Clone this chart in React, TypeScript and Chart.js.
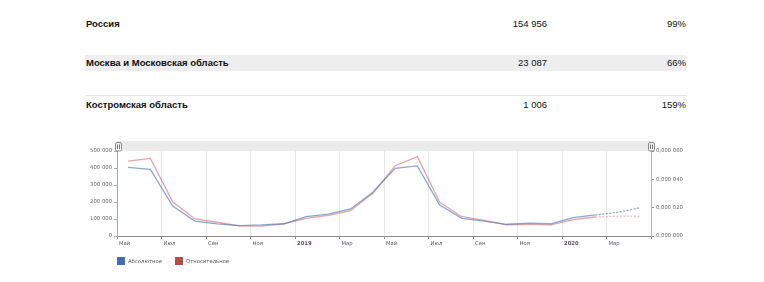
import React, { useEffect, useRef } from "react";
import { Chart, registerables } from "chart.js";

Chart.register(...registerables);

// ---- table data ----
const regionNames = ["Россия", "Москва и Московская область", "Костромская область"];
const regionValues = ["154 956", "23 087", "1 006"];
const regionPercents = ["99%", "66%", "159%"];

// ---- chart data (monthly, May 2018 .. Apr 2020) ----
const monthIndex = [0, 1, 2, 3, 4, 5, 6, 7, 8, 9, 10, 11, 12, 13, 14, 15, 16, 17, 18, 19, 20, 21, 22, 23];
const absoluteValues = [
  404000, 392000, 176000, 88000, 71000, 61000, 65000, 72000, 114000, 129000, 159000, 257000,
  398000, 412000, 182000, 104000, 88000, 69000, 76000, 72000, 108000, 124000, 139000, 166000,
];
const relativeValues = [
  0.0000529, 0.0000548, 0.0000242, 0.000012, 0.0000097, 0.0000071, 0.000007, 0.0000086, 0.0000125, 0.0000146, 0.0000179, 0.0000301,
  0.0000496, 0.000056, 0.0000238, 0.0000136, 0.0000111, 0.0000078, 0.0000082, 0.0000078, 0.0000115, 0.0000134, 0.0000141, 0.0000139,
];
const xTickLabels = ["Май", "Июл", "Сен", "Ноя", "2019", "Мар", "Май", "Июл", "Сен", "Ноя", "2020", "Мар", ""];
const boldTickLabels = ["2019", "2020"];
const seriesNames = ["Абсолютное", "Относительное"];

const FONT = "'DejaVu Sans', Verdana, sans-serif";

const scrollbarPlugin = {
  id: "scrollbar",
  afterDraw(chart: any) {
    const { ctx, chartArea } = chart;
    const l = chartArea.left;
    const r = chartArea.right;
    const t = chartArea.top;
    ctx.save();
    ctx.fillStyle = "#ebebeb";
    ctx.fillRect(l, t - 10, r - l, 10);
    const grip = (cx: number) => {
      const x = cx - 3;
      const y = t - 9;
      const w = 6;
      const h = 8.5;
      ctx.beginPath();
      ctx.roundRect(x + 0.5, y + 0.5, w, h, 1.5);
      ctx.fillStyle = "#f6f6f6";
      ctx.fill();
      ctx.strokeStyle = "#8a8a8a";
      ctx.lineWidth = 1;
      ctx.stroke();
      ctx.beginPath();
      ctx.moveTo(x + 2.5, y + 2.5);
      ctx.lineTo(x + 2.5, y + 7);
      ctx.moveTo(x + 4.5, y + 2.5);
      ctx.lineTo(x + 4.5, y + 7);
      ctx.strokeStyle = "#777";
      ctx.stroke();
    };
    grip(l + 1);
    grip(r);
    ctx.restore();
  },
};

function ChartBlock() {
  const ref = useRef<HTMLCanvasElement | null>(null);
  useEffect(() => {
    if (!ref.current) return;
    const dashed = (c: any) => (c.p0DataIndex >= 21 ? [2, 1.5] : undefined);
    const chart = new Chart(ref.current, {
      type: "line",
      data: {
        datasets: [
          {
            label: seriesNames[0],
            data: monthIndex.map((m, i) => ({ x: m + 0.5, y: absoluteValues[i] })),
            borderColor: "rgba(60,110,185,0.6)",
            borderWidth: 1.3,
            pointRadius: 0,
            tension: 0,
            yAxisID: "y",
            segment: { borderDash: dashed },
          },
          {
            label: seriesNames[1],
            data: monthIndex.map((m, i) => ({ x: m + 0.5, y: relativeValues[i] })),
            borderColor: "rgba(200,75,75,0.5)",
            borderWidth: 1.3,
            pointRadius: 0,
            tension: 0,
            yAxisID: "y1",
            segment: {
              borderDash: dashed,
              borderColor: (c: any) => (c.p0DataIndex >= 21 ? "rgba(200,75,75,0.35)" : undefined),
            },
          },
        ],
      },
      options: {
        animation: false,
        responsive: false,
        devicePixelRatio: 1,
        layout: { padding: { top: 21, bottom: 32, left: 0, right: 0 } },
        plugins: { legend: { display: false }, tooltip: { enabled: false } },
        scales: {
          x: {
            type: "linear",
            min: 0,
            max: 24,
            afterFit: (s: any) => {
              s.height = 14;
            },
            grid: { color: "#e6e6e6", tickColor: "#8a8a8a", tickLength: 3 },
            border: { color: "#8a8a8a" },
            ticks: {
              stepSize: 2,
              autoSkip: false,
              maxRotation: 0,
              align: "start",
              labelOffset: 2,
              padding: 1,
              color: "#5f4b6e",
              font: (c: any) => ({
                family: FONT,
                size: 5.3,
                weight: c.tick && boldTickLabels.includes(c.tick.label) ? "bold" : "normal",
              }),
              callback: (v: any) => xTickLabels[Math.round(Number(v) / 2)] ?? "",
            },
          },
          y: {
            position: "left",
            min: 0,
            max: 500000,
            afterFit: (s: any) => {
              s.width = 117;
            },
            grid: { drawOnChartArea: false, tickColor: "#8fb0dc", tickLength: 3 },
            border: { color: "#8fb0dc" },
            ticks: {
              stepSize: 100000,
              padding: 2,
              color: "#666",
              font: { family: FONT, size: 5.3 },
              callback: (v: any) => String(v).replace(/\B(?=(\d{3})+(?!\d))/g, " "),
            },
          },
          y1: {
            position: "right",
            min: 0,
            max: 0.00006,
            afterFit: (s: any) => {
              s.width = 113;
            },
            grid: { drawOnChartArea: false, tickColor: "#d96a6a", tickLength: 3 },
            border: { color: "#e4a3a3" },
            ticks: {
              stepSize: 0.00002,
              padding: 2,
              color: "#666",
              font: { family: FONT, size: 5.3 },
              callback: (v: any) => {
                const s = Number(v).toFixed(6).replace(".", ",");
                return s.slice(0, 5) + " " + s.slice(5);
              },
            },
          },
        },
      },
      plugins: [scrollbarPlugin],
    } as any);
    return () => chart.destroy();
  }, []);
  return <canvas ref={ref} width={764} height={152} style={{ width: 764, height: 152, display: "block" }} />;
}

const rowCenters = [23.5, 62.5, 104.5];

export default function App() {
  return (
    <div style={{ position: "absolute", left: 0, top: 0, width: 764, height: 282, background: "#fff", overflow: "hidden" }}>
      <div style={{ position: "absolute", left: 85, top: 55, width: 602, height: 16, background: "#eeeeee" }} />
      <div style={{ position: "absolute", left: 85, top: 95, width: 602, height: 1, background: "#e6e6e6" }} />
      {regionNames.map((name, i) => (
        <div
          key={name}
          style={{
            position: "absolute",
            left: 85,
            top: rowCenters[i] - 8,
            width: 602,
            height: 16,
            lineHeight: "16px",
            fontFamily: "'Liberation Sans', Arial, sans-serif",
            fontSize: 9.5,
            color: "#111",
          }}
        >
          <span style={{ position: "absolute", left: 1, fontWeight: "bold" }}>{name}</span>
          <span style={{ position: "absolute", right: 140 }}>{regionValues[i]}</span>
          <span style={{ position: "absolute", right: 1 }}>{regionPercents[i]}</span>
        </div>
      ))}
      <div style={{ position: "absolute", left: 0, top: 130 }}>
        <ChartBlock />
      </div>
      {seriesNames.map((n, i) => (
        <div
          key={n}
          style={{
            position: "absolute",
            left: i === 0 ? 117 : 175,
            top: 256,
            height: 9,
            display: "flex",
            alignItems: "center",
            fontFamily: FONT,
            fontSize: 5.3,
            color: "#555",
          }}
        >
          <span style={{ display: "inline-block", width: 8, height: 8, background: i === 0 ? "#3f6fb3" : "#b84a4a", marginRight: 3 }} />
          {n}
        </div>
      ))}
    </div>
  );
}
